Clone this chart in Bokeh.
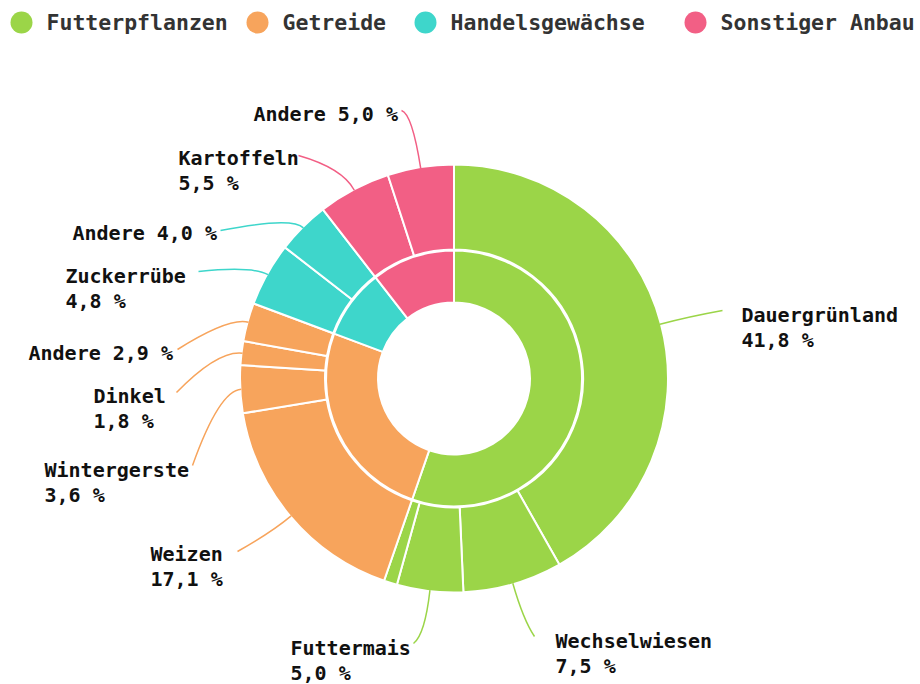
import numpy as np
from bokeh.plotting import figure
from bokeh.models import Range1d, ColumnDataSource
from bokeh.core.properties import value
from bokeh.embed import file_html
from bokeh.resources import INLINE

# ---------------- data ----------------
groups = ["Futterpflanzen", "Getreide", "Handelsgewächse", "Sonstiger Anbau"]
group_colors = ["#9bd548", "#f7a45c", "#3ed6cb", "#f25f85"]

outer_names = ["Dauergrünland", "Wechselwiesen", "Futtermais", "Andere",
               "Weizen", "Wintergerste", "Dinkel", "Andere",
               "Zuckerrübe", "Andere", "Kartoffeln", "Andere"]
outer_values = [41.8, 7.5, 5.0, 1.0,
                17.1, 3.6, 1.8, 2.9,
                4.8, 4.0,
                5.5, 5.0]
outer_group = [0, 0, 0, 0, 1, 1, 1, 1, 2, 2, 3, 3]
# label shown on one line (True) / two lines (False) / hidden (None)
outer_single = [False, False, False, None,
                False, False, False, True,
                False, True, False, True]

# ---------------- layout (screen pixels) ----------------
CX, CY = 453.5, 378.0
R_HOLE, R_IN_OUT, R_OUT_IN, R_OUT = 76, 128, 129, 214
R_EDGE = 213

# per label: text x, first line y, connector end x, end y, first segment length
label_layout = [
    (741, 314, 722, 310, 30),
    (555, 640, 534, 636, 38),
    (290, 647, 413, 643, 45),
    None,
    (150, 553, 237, 551, 25),
    (44, 469, 192, 465, 22),
    (93, 395, 176, 392, 25),
    (28, 352, 177, 349, 20),
    (65, 275, 198, 271, 18),
    (72, 232, 220, 230, 16),
    (178, 157, 298, 155, 25),
    (253, 113, 401, 110, 55),
]
LINE_GAP = 25

legend_circle_x = [21, 257, 425, 695]
legend_text_x = [46, 282, 450, 720]
LEGEND_Y = 22

W, H = 920, 684
p = figure(width=W, height=H, x_range=Range1d(0, W), y_range=Range1d(-H, 0),
           output_backend="svg", toolbar_location=None, min_border=0)
p.axis.visible = False
p.xgrid.visible = False
p.ygrid.visible = False
p.outline_line_color = None
p.background_fill_color = "white"
p.border_fill_color = "white"


def Y(y):
    return -np.asarray(y, dtype=float)


def fmt(v):
    return f"{v:.1f}".replace(".", ",") + " %"


total = 100.0
vals = np.array(outer_values)
cum_end = np.cumsum(vals) / total
cum_start = cum_end - vals / total

# inner ring
g_vals = np.array([vals[np.array(outer_group) == g].sum() for g in range(len(groups))])
g_end = np.cumsum(g_vals) / total
g_start = g_end - g_vals / total

inner = ColumnDataSource(dict(
    start=np.pi / 2 - g_end * 2 * np.pi,
    end=np.pi / 2 - g_start * 2 * np.pi,
    color=group_colors,
))
p.annular_wedge(x=CX, y=-CY, inner_radius=R_HOLE, outer_radius=R_IN_OUT,
                start_angle="start", end_angle="end", direction="anticlock",
                fill_color="color", line_color="white", line_width=2, source=inner)

outer = ColumnDataSource(dict(
    start=np.pi / 2 - cum_end * 2 * np.pi,
    end=np.pi / 2 - cum_start * 2 * np.pi,
    color=[group_colors[g] for g in outer_group],
))
p.annular_wedge(x=CX, y=-CY, inner_radius=R_OUT_IN, outer_radius=R_OUT,
                start_angle="start", end_angle="end", direction="anticlock",
                fill_color="color", line_color="white", line_width=2, source=outer)

# labels + connectors
lx0, ly0, lx1, ly1, lcx, lcy, lcol = [], [], [], [], [], [], []
tx, ty, tt = [], [], []
for i, lay in enumerate(label_layout):
    if lay is None or outer_single[i] is None:
        continue
    txx, tyy, ex, ey, L1 = lay
    theta = (cum_start[i] + cum_end[i]) / 2 * 2 * np.pi
    sx = CX + R_EDGE * np.sin(theta)
    sy = CY - R_EDGE * np.cos(theta)
    ccx = CX + (R_EDGE + L1) * np.sin(theta)
    ccy = CY - (R_EDGE + L1) * np.cos(theta)
    lx0.append(sx); ly0.append(sy); lx1.append(ex); ly1.append(ey)
    lcx.append(ccx); lcy.append(ccy); lcol.append(group_colors[outer_group[i]])
    if outer_single[i]:
        tx.append(txx); ty.append(tyy); tt.append(outer_names[i] + " " + fmt(outer_values[i]))
    else:
        tx += [txx, txx]
        ty += [tyy, tyy + LINE_GAP]
        tt += [outer_names[i], fmt(outer_values[i])]

p.quadratic(x0=lx0, y0=Y(ly0), x1=lx1, y1=Y(ly1), cx=lcx, cy=Y(lcy),
            line_color=lcol, line_width=1.5)

p.text(x=tx, y=Y(ty), text=tt, text_font=value("DejaVu Sans Mono"),
       text_font_style="bold", text_font_size="20px", text_color="#111111",
       text_baseline="middle", text_align="left")

# legend
p.scatter(x=legend_circle_x, y=Y([LEGEND_Y] * 4), marker="circle", size=22,
          fill_color=group_colors, line_color=None)
p.text(x=legend_text_x, y=Y([LEGEND_Y] * 4), text=groups,
       text_font=value("DejaVu Sans Mono"), text_font_style="bold",
       text_font_size="21.5px", text_color="#333333",
       text_baseline="middle", text_align="left")

open("out.html", "w").write(file_html(p, INLINE))
